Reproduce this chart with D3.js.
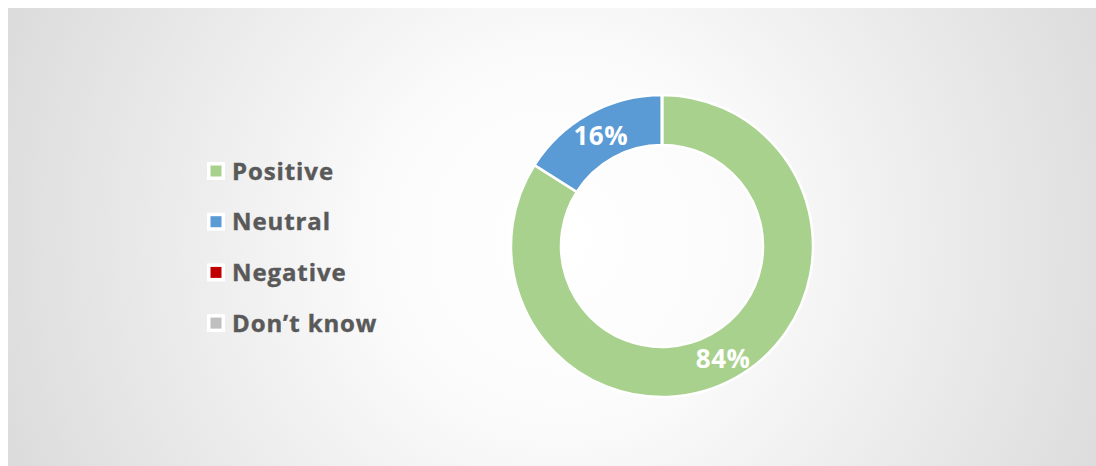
<!doctype html>
<html>
<head>
<style>
  body { margin: 0; background: #fff; }
  .legend-text { font-family: "Open Sans", "Noto Sans", sans-serif; font-weight: bold; fill: #595959; }
  .label { font-family: "Open Sans", "Noto Sans", sans-serif; font-weight: bold; fill: #fff; }
</style>
<script src="https://d3js.org/d3.v7.min.js"></script>
</head>
<body>
<svg id="chart" width="1096" height="466"></svg>
<script>
var categories = ["Positive", "Neutral", "Negative", "Don\u2019t know"];
var values = [84, 16, 0, 0];
var colors = ["#A9D18E", "#5B9BD5", "#C00000", "#BFBFBF"];

var svg = d3.select("#chart");

// background panel with soft radial shading
var defs = svg.append("defs");
var grad = defs.append("radialGradient")
    .attr("id", "bg")
    .attr("gradientUnits", "userSpaceOnUse")
    .attr("cx", 560).attr("cy", 240).attr("r", 600);
grad.append("stop").attr("offset", "0").attr("stop-color", "#ffffff");
grad.append("stop").attr("offset", "0.3").attr("stop-color", "#fbfbfb");
grad.append("stop").attr("offset", "1").attr("stop-color", "#dcdbdb");

svg.append("rect")
   .attr("x", 8).attr("y", 8)
   .attr("width", 1088).attr("height", 458)
   .attr("fill", "url(#bg)");

var cx = 662, cy = 246, outerR = 151, innerR = 101;

var pie = d3.pie().sort(null).value(function(d) { return d; });
var arc = d3.arc().innerRadius(innerR).outerRadius(outerR);
var labelArc = d3.arc().innerRadius(127).outerRadius(127);

var g = svg.append("g").attr("transform", "translate(" + cx + "," + cy + ")");

var arcs = pie(values);

g.selectAll("path")
 .data(arcs)
 .enter().append("path")
 .attr("d", arc)
 .attr("fill", function(d, i) { return colors[i]; })
 .attr("stroke", "#fff")
 .attr("stroke-width", 2.5);

g.selectAll(".label")
 .data(arcs.filter(function(d) { return d.value > 0; }))
 .enter().append("text")
 .attr("class", "label")
 .attr("transform", function(d) { return "translate(" + labelArc.centroid(d) + ")"; })
 .attr("text-anchor", "middle")
 .attr("dy", "0.4em")
 .attr("font-size", "26px")
 .attr("letter-spacing", "0.5px")
 .text(function(d) { return d.value + "%"; });

// legend
var legend = svg.append("g").attr("transform", "translate(207,171)");
var rowH = 50.7;

var item = legend.selectAll(".item")
    .data(categories)
    .enter().append("g")
    .attr("transform", function(d, i) { return "translate(0," + (i * rowH) + ")"; });

item.append("rect")
    .attr("x", 0).attr("y", -9)
    .attr("width", 18).attr("height", 18)
    .attr("fill", "#fff");

item.append("rect")
    .attr("x", 3.5).attr("y", -5.5)
    .attr("width", 11).attr("height", 11)
    .attr("fill", function(d, i) { return colors[i]; });

item.append("text")
    .attr("class", "legend-text")
    .attr("x", 25)
    .attr("y", 0)
    .attr("dy", "0.36em")
    .attr("font-size", "24px")
    .attr("letter-spacing", "0.9px")
    .attr("stroke", "#595959")
    .attr("stroke-width", 0.4)
    .text(function(d) { return d; });
</script>
</body>
</html>
